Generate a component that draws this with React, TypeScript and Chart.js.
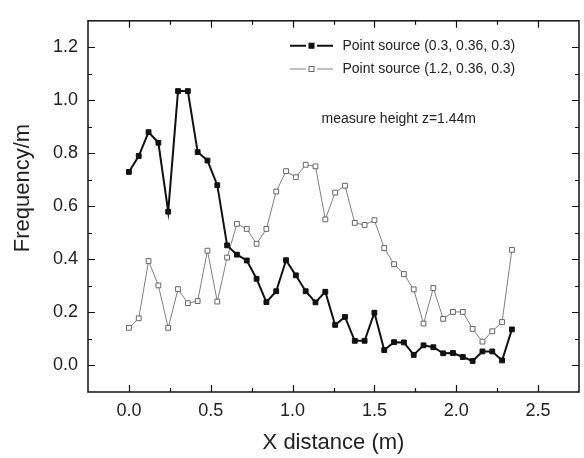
import React, { useEffect, useRef } from "react";
import { Chart, registerables } from "chart.js";

Chart.register(...registerables);

const xDistance = [
  0, 0.06, 0.12, 0.18, 0.24, 0.3, 0.36, 0.42, 0.48, 0.54,
  0.6, 0.66, 0.72, 0.78, 0.84, 0.9, 0.96, 1.02, 1.08, 1.14,
  1.2, 1.26, 1.32, 1.38, 1.44, 1.5, 1.56, 1.62, 1.68, 1.74,
  1.8, 1.86, 1.92, 1.98, 2.04, 2.1, 2.16, 2.22, 2.28, 2.34,
];

const source1 = [
  0.73, 0.79, 0.88, 0.84, 0.58, 1.035, 1.035, 0.805, 0.773, 0.68,
  0.453, 0.418, 0.396, 0.327, 0.239, 0.28, 0.397, 0.34, 0.28, 0.238,
  0.278, 0.153, 0.183, 0.093, 0.093, 0.199, 0.058, 0.088, 0.087, 0.04,
  0.076, 0.069, 0.046, 0.047, 0.032, 0.017, 0.053, 0.053, 0.019, 0.136,
];

const source2 = [
  0.142, 0.178, 0.394, 0.302, 0.142, 0.288, 0.235, 0.243, 0.433, 0.241,
  0.407, 0.534, 0.515, 0.459, 0.515, 0.656, 0.733, 0.71, 0.757, 0.751,
  0.551, 0.652, 0.678, 0.538, 0.53, 0.548, 0.443, 0.382, 0.345, 0.287,
  0.158, 0.292, 0.176, 0.202, 0.202, 0.138, 0.09, 0.129, 0.164, 0.436,
];

const seriesNames = ["Point source (0.3, 0.36, 0.3)", "Point source (1.2, 0.36, 0.3)"];
const xMajorTicks = [0, 0.5, 1.0, 1.5, 2.0, 2.5];
const xMinorTicks = [0.25, 0.75, 1.25, 1.75, 2.25];
const yMajorTicks = [0, 0.2, 0.4, 0.6, 0.8, 1.0, 1.2];
const yMinorTicks = [0.1, 0.3, 0.5, 0.7, 0.9, 1.1];
const xTitle = "X distance (m)";
const yTitle = "Frequency/m";
const note = "measure height z=1.44m";

const FONT = "'Liberation Sans', Arial, sans-serif";

const framePlugin = {
  id: "framePlugin",
  afterDraw(chart: any) {
    const ctx = chart.ctx;
    const { left, right, top, bottom } = chart.chartArea;
    const xs = chart.scales.x;
    const ys = chart.scales.y;
    ctx.save();
    ctx.strokeStyle = "#111";
    ctx.lineWidth = 1.5;
    ctx.strokeRect(left, top, right - left, bottom - top);
    ctx.lineWidth = 1.2;
    const major = 7;
    const minor = 4;
    ctx.beginPath();
    const xt = (v: number, len: number) => {
      const px = Math.round(xs.getPixelForValue(v)) + 0.5;
      ctx.moveTo(px, bottom);
      ctx.lineTo(px, bottom - len);
      ctx.moveTo(px, top);
      ctx.lineTo(px, top + len);
    };
    const yt = (v: number, len: number) => {
      const py = Math.round(ys.getPixelForValue(v)) + 0.5;
      ctx.moveTo(left, py);
      ctx.lineTo(left + len, py);
      ctx.moveTo(right, py);
      ctx.lineTo(right - len, py);
    };
    xMajorTicks.forEach((v) => xt(v, major));
    xMinorTicks.forEach((v) => xt(v, minor));
    yMajorTicks.forEach((v) => yt(v, major));
    yMinorTicks.forEach((v) => yt(v, minor));
    ctx.stroke();

    // axis titles
    ctx.fillStyle = "#222";
    ctx.font = `22px ${FONT}`;
    ctx.textAlign = "center";
    ctx.textBaseline = "middle";
    ctx.fillText(xTitle, (left + right) / 2, 443);
    ctx.save();
    ctx.translate(23, 188);
    ctx.rotate(-Math.PI / 2);
    ctx.fillText(yTitle, 0, 0);
    ctx.restore();

    // legend
    ctx.font = `14px ${FONT}`;
    ctx.textAlign = "left";
    const ds = chart.data.datasets;
    const rows = [45.7, 69];
    ds.forEach((d: any, i: number) => {
      const y = rows[i];
      ctx.strokeStyle = d.borderColor;
      ctx.lineWidth = d.borderWidth;
      ctx.beginPath();
      ctx.moveTo(290, y);
      ctx.lineTo(306, y);
      ctx.moveTo(317, y);
      ctx.lineTo(333, y);
      ctx.stroke();
      const s = 5;
      ctx.fillStyle = d.pointBackgroundColor;
      ctx.fillRect(311.5 - s / 2, y - s / 2, s, s);
      ctx.strokeStyle = d.pointBorderColor;
      ctx.lineWidth = 1;
      ctx.strokeRect(311.5 - s / 2, y - s / 2, s, s);
      ctx.fillStyle = "#222";
      ctx.fillText(d.label, 342.5, y);
    });
    ctx.fillText(note, 321.5, 119.5);
    ctx.restore();
  },
};

export default function App() {
  const ref = useRef<HTMLCanvasElement | null>(null);
  useEffect(() => {
    document.body.style.margin = "0";
    const canvas = ref.current!;
    const chart = new Chart(canvas, {
      type: "line",
      data: {
        datasets: [
          {
            label: seriesNames[0],
            data: xDistance.map((x, i) => ({ x, y: source1[i] })),
            borderColor: "#111",
            borderWidth: 2,
            pointStyle: "rect",
            pointRadius: 3.4,
            pointBackgroundColor: "#111",
            pointBorderColor: "#111",
            pointBorderWidth: 1,
            tension: 0,
          },
          {
            label: seriesNames[1],
            data: xDistance.map((x, i) => ({ x, y: source2[i] })),
            borderColor: "#808080",
            borderWidth: 1,
            pointStyle: "rect",
            pointRadius: 3.4,
            pointBackgroundColor: "#ffffff",
            pointBorderColor: "#666",
            pointBorderWidth: 1,
            tension: 0,
          },
        ],
      },
      options: {
        responsive: false,
        animation: false,
        devicePixelRatio: 1,
        layout: { padding: { top: 5, right: 5, left: 0, bottom: 0 } },
        plugins: { legend: { display: false }, tooltip: { enabled: false } },
        scales: {
          x: {
            type: "linear",
            min: -0.25,
            max: 2.75,
            grid: { display: false, drawTicks: false },
            border: { display: false },
            ticks: {
              padding: 8,
              color: "#222",
              font: { family: FONT, size: 18 },
              callback: (v: any) => Number(v).toFixed(1),
            },
            afterBuildTicks: (s: any) => {
              s.ticks = xMajorTicks.map((v) => ({ value: v }));
            },
            afterFit: (s: any) => {
              s.height = 66;
            },
          },
          y: {
            type: "linear",
            min: -0.1,
            max: 1.3,
            grid: { display: false, drawTicks: false },
            border: { display: false },
            ticks: {
              padding: 10,
              color: "#222",
              font: { family: FONT, size: 18 },
              callback: (v: any) => Number(v).toFixed(1),
            },
            afterBuildTicks: (s: any) => {
              s.ticks = yMajorTicks.map((v) => ({ value: v }));
            },
            afterFit: (s: any) => {
              s.width = 88;
            },
          },
        },
      },
      plugins: [framePlugin],
    });
    return () => chart.destroy();
  }, []);
  return (
    <canvas
      ref={ref}
      width={584}
      height={458}
      style={{ display: "block", width: 584, height: 458 }}
    />
  );
}
